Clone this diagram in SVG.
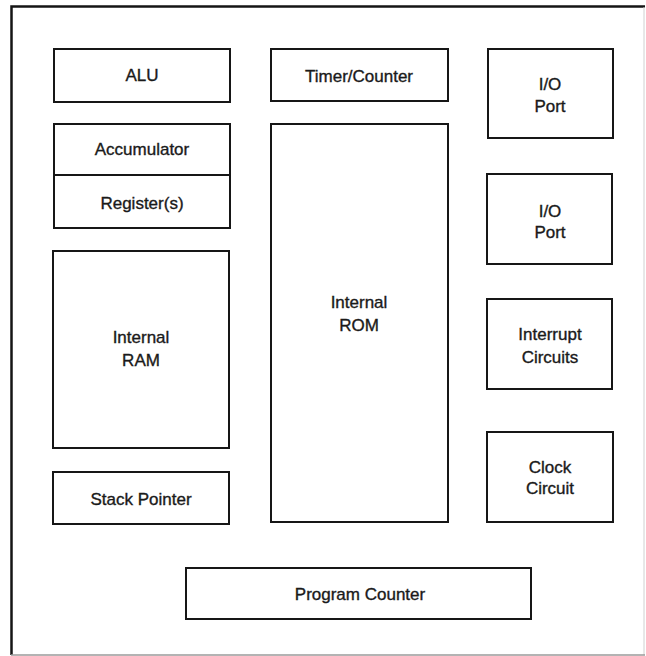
<svg xmlns="http://www.w3.org/2000/svg" width="646" height="656" viewBox="0 0 646 656">
  <style>
    .box { fill: #ffffff; stroke: #161616; stroke-width: 2; }
    .lbl { font-family: "Liberation Sans", Arial, sans-serif; font-size: 17px; fill: #1a1a1a; stroke: #1a1a1a; stroke-width: 0.35; text-anchor: middle; }
  </style>
  <rect x="0" y="0" width="646" height="656" fill="#ffffff"/>
  <g id="frame">
    <path d="M11.5 655 L11.5 6.5 L645 6.5" fill="none" stroke="#151515" stroke-width="2.5"/>
    <line x1="644" y1="7" x2="644" y2="655" stroke="#d0d0d0" stroke-width="1"/>
    <line x1="11" y1="655" x2="645" y2="655" stroke="#9a9a9a" stroke-width="1.5"/>
  </g>
  <g id="alu">
    <rect class="box" x="54" y="49" width="176" height="53"/>
    <text class="lbl" x="142" y="81">ALU</text>
  </g>
  <g id="accumulator">
    <rect class="box" x="54" y="124" width="176" height="51"/>
    <text class="lbl" x="142" y="155">Accumulator</text>
  </g>
  <g id="registers">
    <rect class="box" x="54" y="175" width="176" height="53"/>
    <text class="lbl" x="142" y="209">Register(s)</text>
  </g>
  <g id="internal-ram">
    <rect class="box" x="53" y="251" width="176" height="197"/>
    <text class="lbl" x="141" y="343">Internal</text>
    <text class="lbl" x="141" y="366">RAM</text>
  </g>
  <g id="stack-pointer">
    <rect class="box" x="53" y="472" width="176" height="52"/>
    <text class="lbl" x="141" y="505">Stack Pointer</text>
  </g>
  <g id="timer-counter">
    <rect class="box" x="271" y="49" width="177" height="52"/>
    <text class="lbl" x="359" y="82">Timer/Counter</text>
  </g>
  <g id="internal-rom">
    <rect class="box" x="271" y="124" width="177" height="398"/>
    <text class="lbl" x="359" y="308">Internal</text>
    <text class="lbl" x="359" y="331">ROM</text>
  </g>
  <g id="io-port-1">
    <rect class="box" x="488" y="49" width="125" height="89"/>
    <text class="lbl" x="550" y="90">I/O</text>
    <text class="lbl" x="550" y="112">Port</text>
  </g>
  <g id="io-port-2">
    <rect class="box" x="487" y="174" width="125" height="90"/>
    <text class="lbl" x="550" y="217">I/O</text>
    <text class="lbl" x="550" y="238">Port</text>
  </g>
  <g id="interrupt-circuits">
    <rect class="box" x="487" y="299" width="125" height="90"/>
    <text class="lbl" x="550" y="340">Interrupt</text>
    <text class="lbl" x="550" y="363">Circuits</text>
  </g>
  <g id="clock-circuit">
    <rect class="box" x="487" y="432" width="126" height="90"/>
    <text class="lbl" x="550" y="473">Clock</text>
    <text class="lbl" x="550" y="494">Circuit</text>
  </g>
  <g id="program-counter">
    <rect class="box" x="186" y="568" width="345" height="51"/>
    <text class="lbl" x="360" y="600">Program Counter</text>
  </g>
  <g id="connectors"></g>
</svg>
